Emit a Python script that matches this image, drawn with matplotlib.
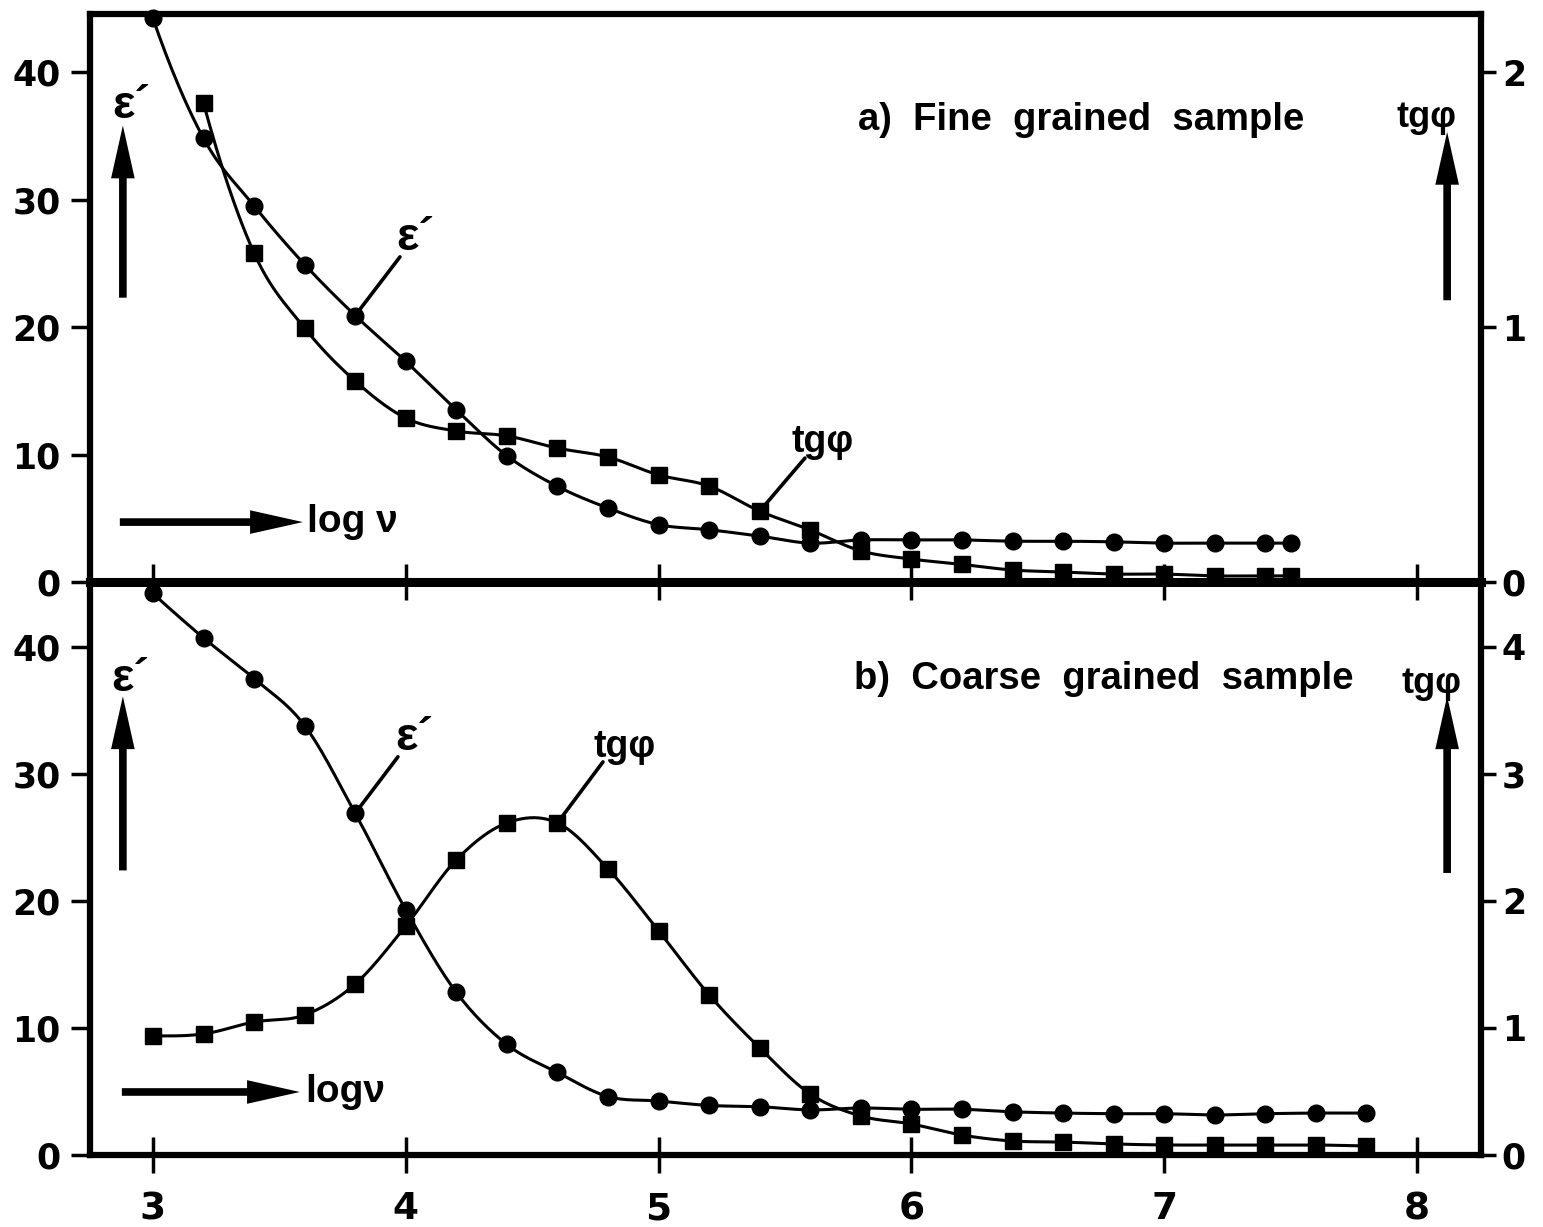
import numpy as np
import matplotlib
matplotlib.use("Agg")
import matplotlib.pyplot as plt

# log(frequency) grid
logv_a = [3.0, 3.2, 3.4, 3.6, 3.8, 4.0, 4.2, 4.4, 4.6, 4.8, 5.0, 5.2, 5.4, 5.6,
          5.8, 6.0, 6.2, 6.4, 6.6, 6.8, 7.0, 7.2, 7.4, 7.5]
logv_a_tg = logv_a[1:]
logv_b = [3.0, 3.2, 3.4, 3.6, 3.8, 4.0, 4.2, 4.4, 4.6, 4.8, 5.0, 5.2, 5.4, 5.6,
          5.8, 6.0, 6.2, 6.4, 6.6, 6.8, 7.0, 7.2, 7.4, 7.6, 7.8]

# a) fine grained sample
eps_a = [44.2, 34.8, 29.5, 24.9, 20.9, 17.3, 13.5, 9.9, 7.5, 5.8, 4.5, 4.1, 3.6,
         3.05, 3.3, 3.3, 3.3, 3.2, 3.2, 3.15, 3.05, 3.05, 3.05, 3.05]
tg_a = [1.878, 1.290, 0.996, 0.788, 0.643, 0.592, 0.573, 0.525, 0.490, 0.420,
        0.376, 0.278, 0.204, 0.122, 0.090, 0.069, 0.047, 0.039, 0.031, 0.031,
        0.024, 0.024, 0.024]

# b) coarse grained sample
eps_b = [44.2, 40.7, 37.5, 33.8, 26.9, 19.3, 12.8, 8.7, 6.5, 4.6, 4.25, 3.9, 3.8,
         3.55, 3.7, 3.6, 3.6, 3.4, 3.3, 3.25, 3.25, 3.15, 3.25, 3.3, 3.3]
tg_b = [0.937, 0.953, 1.047, 1.102, 1.346, 1.803, 2.323, 2.614, 2.614, 2.252,
        1.764, 1.260, 0.843, 0.480, 0.307, 0.244, 0.157, 0.110, 0.102, 0.087,
        0.079, 0.079, 0.079, 0.079, 0.071]

xticks = [3, 4, 5, 6, 7, 8]
eps_ticks = [0, 10, 20, 30, 40]
tg_ticks_a = [0, 1, 2]
tg_ticks_b = [0, 1, 2, 3, 4]

NUM = "DejaVu Sans"
TXT = ["Liberation Sans", "DejaVu Sans"]


def smooth(x, y, n=24):
    # cubic hermite curve through the measured points
    x = np.asarray(x, float)
    y = np.asarray(y, float)
    d = np.diff(y) / np.diff(x)
    m = np.empty_like(y)
    m[1:-1] = (y[2:] - y[:-2]) / (x[2:] - x[:-2])
    m[0] = 2 * d[0] - m[1]
    if np.sign(m[0]) != np.sign(d[0]):
        m[0] = 0
    m[-1] = d[-1]
    xs, ys = [], []
    t = np.linspace(0, 1, n, endpoint=False)
    for i in range(len(x) - 1):
        h = x[i + 1] - x[i]
        h00 = 2 * t**3 - 3 * t**2 + 1
        h10 = t**3 - 2 * t**2 + t
        h01 = -2 * t**3 + 3 * t**2
        h11 = t**3 - t**2
        xs.append(x[i] + t * h)
        ys.append(h00 * y[i] + h10 * h * m[i] + h01 * y[i + 1] + h11 * h * m[i + 1])
    xs.append([x[-1]])
    ys.append([y[-1]])
    return np.concatenate(xs), np.concatenate(ys)


def series(ax, x, y, marker, ms):
    sx, sy = smooth(x, y)
    ax.plot(sx, sy, color="k", lw=2.2, clip_on=False, zorder=3)
    ax.plot(x, y, ls="none", marker=marker, ms=ms, color="k", clip_on=False, zorder=4)


def arrow(ax, tail, tip):
    ax.annotate("", xy=tip, xytext=tail,
                arrowprops=dict(width=5.5, headwidth=17, headlength=38, shrink=0,
                                facecolor="k", edgecolor="k", lw=0))


def eps_label(ax, x, y):
    ax.text(x, y, "ε´", family=TXT, fontweight="bold", fontsize=34,
            ha="center", va="center")


def leader(ax, start, end, label, pos, size=27):
    ax.annotate("", xy=start, xytext=end,
                arrowprops=dict(arrowstyle="-", lw=2.6, color="k", shrinkA=0, shrinkB=0))
    ax.text(pos[0], pos[1], label, family=TXT, fontweight="bold", fontsize=size,
            ha="center", va="center")


fig = plt.figure(figsize=(15.43, 12.27), dpi=100)
fig.patch.set_facecolor("white")
ax1 = fig.add_axes([0.05833, 0.52567, 0.9015, 0.46292])
ax2 = fig.add_axes([0.05833, 0.05868, 0.9015, 0.46699])
t1 = ax1.twinx()
t2 = ax2.twinx()

ax1.set_ylim(0, 44.55)
t1.set_ylim(0, 44.55 / 20)
ax2.set_ylim(0, 45.1)
t2.set_ylim(0, 45.1 / 10)

for ax in (ax1, ax2):
    ax.set_xlim(2.751, 8.253)
    ax.set_xticks(xticks)
    ax.set_yticks(eps_ticks)
    for s in ax.spines.values():
        s.set_linewidth(4.5)
    ax.spines["right"].set_visible(False)
    ax.tick_params(axis="y", direction="out", length=14, width=2.5, pad=7,
                   labelsize=25)
    for lab in ax.get_yticklabels():
        lab.set_family(NUM)
        lab.set_fontweight("bold")

for t, ticks in ((t1, tg_ticks_a), (t2, tg_ticks_b)):
    t.set_yticks(ticks)
    for side in ("left", "top", "bottom"):
        t.spines[side].set_visible(False)
    t.spines["right"].set_linewidth(4.5)
    t.tick_params(axis="y", direction="out", length=11, width=2.5, pad=4,
                  labelsize=25)
    for lab in t.get_yticklabels():
        lab.set_family(NUM)
        lab.set_fontweight("bold")

# shared middle line drawn heavier
ax1.spines["bottom"].set_linewidth(6.5)
ax2.spines["top"].set_linewidth(6.5)
ax1.tick_params(axis="x", bottom=False, labelbottom=False)
ax2.tick_params(axis="x", direction="inout", top=True, bottom=True, length=26,
                width=2.5, pad=13, labelsize=27)
for lab in ax2.get_xticklabels():
    lab.set_family(NUM)
    lab.set_fontweight("bold")

# curves
series(ax1, logv_a, eps_a, "o", 12)
series(t1, logv_a_tg, tg_a, "s", 12)
series(ax2, logv_b, eps_b, "o", 12)
series(t2, logv_b, tg_b, "s", 12)

# panel a labels
ax1.text(5.789, 35.45, "a)  Fine  grained  sample", family=TXT, fontweight="bold",
         fontsize=27.5, ha="left", va="baseline")
eps_label(ax1, 2.913, 37.3)
ax1.text(8.036, 36.47, "tgφ", family=TXT, fontweight="bold", fontsize=26,
         ha="center", va="center")
arrow(ax1, (2.881, 22.3), (2.881, 35.8))
arrow(ax1, (8.119, 22.1), (8.119, 35.3))
arrow(ax1, (2.869, 4.7), (3.593, 4.7))
ax1.text(3.609, 4.7, "log ν", family=TXT, fontweight="bold", fontsize=28,
         ha="left", va="center")
leader(ax1, (logv_a[4], eps_a[4]), (3.977, 25.5), "ε´", (4.036, 27.0), size=34)
leader(t1, (logv_a_tg[11], tg_a[11]), (5.579, 0.486), "tgφ", (5.650, 0.549))

# panel b labels
ax2.text(5.773, 36.7, "b)  Coarse  grained  sample", family=TXT, fontweight="bold",
         fontsize=27.5, ha="left", va="baseline")
eps_label(ax2, 2.909, 37.5)
ax2.text(8.059, 37.1, "tgφ", family=TXT, fontweight="bold", fontsize=26,
         ha="center", va="center")
arrow(ax2, (2.881, 22.4), (2.881, 36.1))
arrow(ax2, (8.119, 22.2), (8.119, 36.1))
arrow(ax2, (2.877, 4.96), (3.581, 4.96))
ax2.text(3.601, 4.96, "logν", family=TXT, fontweight="bold", fontsize=28,
         ha="left", va="center")
leader(ax2, (logv_b[4], eps_b[4]), (3.969, 31.34), "ε´", (4.032, 32.8), size=34)
leader(t2, (logv_b[8], tg_b[8]), (4.780, 3.094), "tgφ", (4.867, 3.213))

fig.savefig("out.png", dpi=100, facecolor="white")
